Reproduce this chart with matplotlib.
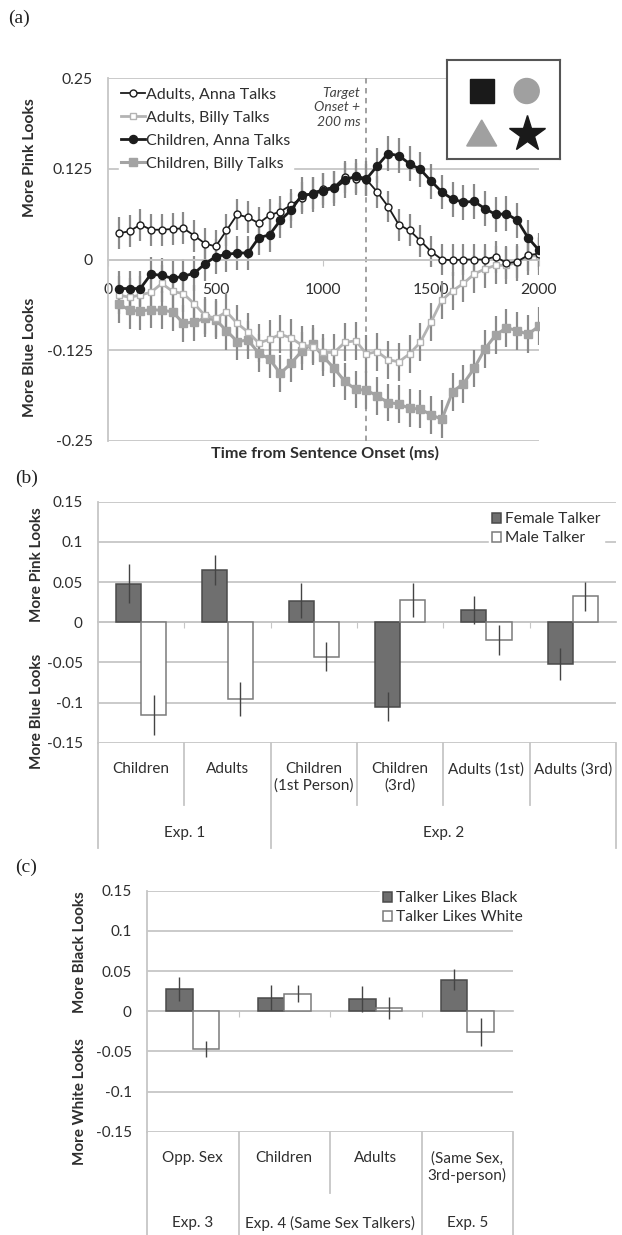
import matplotlib
matplotlib.use("Agg")
import matplotlib.pyplot as plt
import matplotlib.transforms as mtransforms
from matplotlib.patches import Rectangle, Circle, Polygon

# ---------------- Panel (a) data ----------------
time_ms = [50, 100, 150, 200, 250, 300, 350, 400, 450, 500,
           550, 600, 650, 700, 750, 800, 850, 900, 950, 1000,
           1050, 1100, 1150, 1200, 1250, 1300, 1350, 1400, 1450, 1500,
           1550, 1600, 1650, 1700, 1750, 1800, 1850, 1900, 1950, 2000]
adults_anna = [0.036, 0.039, 0.048, 0.041, 0.041, 0.042, 0.043, 0.033, 0.022, 0.018,
               0.040, 0.062, 0.058, 0.050, 0.061, 0.066, 0.075, 0.085, 0.092, 0.097,
               0.100, 0.114, 0.111, 0.110, 0.093, 0.073, 0.048, 0.040, 0.026, 0.011,
               0.000, -0.001, 0.000, 0.000, 0.000, 0.004, -0.005, -0.003, 0.006, 0.008]
adults_billy = [-0.049, -0.052, -0.049, -0.045, -0.033, -0.044, -0.047, -0.061, -0.077, -0.081,
                -0.072, -0.088, -0.100, -0.115, -0.110, -0.103, -0.108, -0.118, -0.120, -0.128,
                -0.128, -0.114, -0.112, -0.130, -0.127, -0.138, -0.141, -0.130, -0.114, -0.086,
                -0.056, -0.043, -0.033, -0.020, -0.013, -0.008, -0.008, -0.004, 0.005, 0.005]
children_anna = [-0.040, -0.040, -0.040, -0.020, -0.022, -0.026, -0.023, -0.019, -0.006, 0.004,
                 0.007, 0.009, 0.009, 0.030, 0.034, 0.054, 0.068, 0.089, 0.090, 0.095,
                 0.098, 0.109, 0.115, 0.111, 0.129, 0.146, 0.143, 0.132, 0.124, 0.108,
                 0.093, 0.083, 0.079, 0.080, 0.070, 0.062, 0.063, 0.054, 0.030, 0.013]
children_billy = [-0.061, -0.070, -0.071, -0.069, -0.070, -0.072, -0.088, -0.086, -0.081, -0.083,
                  -0.098, -0.113, -0.111, -0.129, -0.137, -0.157, -0.143, -0.126, -0.116, -0.134,
                  -0.150, -0.168, -0.179, -0.180, -0.188, -0.197, -0.199, -0.205, -0.206, -0.214,
                  -0.220, -0.182, -0.171, -0.150, -0.123, -0.104, -0.094, -0.098, -0.103, -0.092]
adults_anna_err = 0.022
adults_billy_err = 0.026
children_anna_err = 0.024
children_billy_err = 0.026
a_series_labels = ["Adults, Anna Talks", "Adults, Billy Talks",
                   "Children, Anna Talks", "Children, Billy Talks"]
a_yticks = [0.25, 0.125, 0, -0.125, -0.25]
a_yticklabels = ["0.25", "0.125", "0", "-0.125", "-0.25"]
a_xticks = [0, 500, 1000, 1500, 2000]
target_ms = 1200

# ---------------- Panel (b) data ----------------
b_categories = ["Children", "Adults", "Children\n(1st Person)", "Children\n(3rd)",
                "Adults (1st)", "Adults (3rd)"]
b_groups = ["Exp. 1", "Exp. 2"]
b_group_sizes = [2, 4]
b_female = [0.048, 0.065, 0.027, -0.105, 0.015, -0.052]
b_female_err = [0.024, 0.019, 0.022, 0.018, 0.017, 0.020]
b_male = [-0.116, -0.096, -0.043, 0.028, -0.022, 0.032]
b_male_err = [0.025, 0.021, 0.018, 0.021, 0.019, 0.018]
b_series = ["Female Talker", "Male Talker"]

# ---------------- Panel (c) data ----------------
c_categories = ["Opp. Sex", "Children", "Adults", "(Same Sex,\n3rd-person)"]
c_groups = ["Exp. 3", "Exp. 4 (Same Sex Talkers)", "Exp. 5"]
c_group_sizes = [1, 2, 1]
c_black = [0.028, 0.017, 0.015, 0.039]
c_black_err = [0.015, 0.015, 0.016, 0.013]
c_white = [-0.047, 0.022, 0.004, -0.026]
c_white_err = [0.010, 0.010, 0.014, 0.017]
c_series = ["Talker Likes Black", "Talker Likes White"]

bc_yticks = [0.15, 0.1, 0.05, 0, -0.05, -0.1, -0.15]
bc_yticklabels = ["0.15", "0.1", "0.05", "0", "-0.05", "-0.1", "-0.15"]

# ---------------- styling ----------------
W, H, DPI = 622, 1235, 100
FONT = "Lato"
TXT = "#2e2e2e"
GRID = "#c6c6c6"
BLACK = "#1c1c1c"
GRAY = "#a3a3a3"
LGRAY = "#b3b3b3"
ECOL = "#8a8a8a"
plt.rcParams["font.family"] = [FONT, "DejaVu Sans"]

fig = plt.figure(figsize=(W / DPI, H / DPI), dpi=DPI)
fig.patch.set_facecolor("white")


def fx(px):
    return px / W


def fy(py):
    return 1 - py / H


def add_ax(left, top, right, bottom):
    return fig.add_axes([fx(left), fy(bottom), (right - left) / W, (bottom - top) / H])


def style_common(ax):
    for s in ["top", "right"]:
        ax.spines[s].set_visible(False)
    ax.spines["left"].set_color(GRID)
    ax.spines["left"].set_linewidth(1.3)
    ax.yaxis.grid(True, color=GRID, linewidth=1.3)
    ax.set_axisbelow(True)
    ax.tick_params(axis="y", length=0, labelsize=11, labelcolor=TXT, pad=11)


def ylabel(x, y, s, size):
    fig.text(fx(x), fy(y), s, rotation=90, ha="center", va="center",
             fontsize=size, fontweight="bold", color=TXT)


# ================= Panel (a) =================
axa = add_ax(108, 78, 538.8, 441)
style_common(axa)
axa.set_xlim(0, 2000)
axa.set_ylim(-0.25, 0.25)
axa.set_yticks(a_yticks)
axa.set_yticklabels(a_yticklabels)
axa.tick_params(axis="y", labelsize=11.3)
axa.spines["bottom"].set_position(("data", 0))
axa.spines["bottom"].set_color(GRID)
axa.spines["bottom"].set_linewidth(1.3)
axa.set_xticks(a_xticks)
axa.set_xticklabels([str(v) for v in a_xticks])
axa.tick_params(axis="x", length=4, color=GRID, labelsize=11.3, labelcolor=TXT, pad=13)

axa.axvline(target_ms, color="#9a9a9a", linestyle=(0, (3, 2.5)), linewidth=1.3, zorder=1.5)
axa.text(target_ms - 28, 0.238, "Target\nOnset +\n200 ms", ha="right", va="top",
         style="italic", fontsize=10, color="#444444", linespacing=1.25, zorder=1.6)

series_a = [
    (adults_anna, adults_anna_err, dict(color=BLACK, lw=1.3, marker="o", ms=5.0,
                                        mfc="white", mec=BLACK, mew=1.0), 5),
    (adults_billy, adults_billy_err, dict(color=LGRAY, lw=2.0, marker="s", ms=4.8,
                                          mfc="white", mec=LGRAY, mew=1.0), 4),
    (children_anna, children_anna_err, dict(color=BLACK, lw=2.0, marker="o", ms=5.8,
                                            mfc=BLACK, mec=BLACK), 6),
    (children_billy, children_billy_err, dict(color=GRAY, lw=2.2, marker="s", ms=5.4,
                                              mfc=GRAY, mec=GRAY), 3),
]
handles = []
for (vals, err, kw, z), lab in zip(series_a, a_series_labels):
    axa.errorbar(time_ms, vals, yerr=err, fmt="none", ecolor=ECOL, elinewidth=1.6,
                 capsize=0, zorder=2)
for (vals, err, kw, z), lab in zip(series_a, a_series_labels):
    ln, = axa.plot(time_ms, vals, zorder=z, label=lab, **kw)
    handles.append(ln)

leg = axa.legend(handles=handles, loc="upper left",
                 bbox_to_anchor=(fx(119), fy(85)), bbox_transform=fig.transFigure,
                 frameon=True, fancybox=False, framealpha=1, edgecolor="white",
                 facecolor="white", fontsize=11.5, handlelength=1.45,
                 handletextpad=0.12, labelspacing=0.56, borderpad=0.15,
                 borderaxespad=0)
for t in leg.get_texts():
    t.set_color(TXT)

fig.text(fx(325), fy(453), "Time from Sentence Onset (ms)", ha="center", va="center",
         fontsize=11.7, fontweight="bold", color=TXT)
ylabel(30, 158, "More Pink Looks", 11.3)
ylabel(30, 357, "More Blue Looks", 11.3)

# inset with shapes
axi = add_ax(447, 60, 560, 159)
axi.set_xlim(0, 113)
axi.set_ylim(99, 0)
axi.set_xticks([])
axi.set_yticks([])
for s in axi.spines.values():
    s.set_color("#555555")
    s.set_linewidth(1.5)
axi.add_patch(Rectangle((34.7 - 12, 31 - 12), 24, 24, color="#1a1a1a"))
axi.add_patch(Circle((79.7, 31), 12.5, color="#a0a0a0"))
axi.add_patch(Polygon([[19.7, 86], [49.7, 86], [34.7, 60]], closed=True, color="#a0a0a0"))
axi.plot([79.7], [74], marker="*", ms=27, color="#1a1a1a")

# ================= Panel (b) / (c) helper =================
BAR_W = 0.29


def bar_panel(left, top, right, bottom, cats, groups, gsizes, v1, e1, v2, e2, names,
              row_y, inner_bot, group_bot, group_y, leg_xy):
    ax = add_ax(left, top, right, bottom)
    style_common(ax)
    n = len(cats)
    ax.set_xlim(-0.5, n - 0.5)
    ax.set_ylim(-0.15, 0.15)
    ax.set_yticks(bc_yticks)
    ax.set_yticklabels(bc_yticklabels)
    ax.spines["bottom"].set_position(("data", 0))
    ax.spines["bottom"].set_color(GRID)
    ax.spines["bottom"].set_linewidth(1.3)
    ax.set_xticks([i + 0.5 for i in range(n - 1)])
    ax.set_xticklabels([])
    ax.tick_params(axis="x", length=4, color=GRID)
    xs = list(range(n))
    b1 = ax.bar([x - BAR_W / 2 for x in xs], v1, width=BAR_W, color="#6f6f6f",
                edgecolor="#4a4a4a", linewidth=1.1, zorder=3, label=names[0])
    b2 = ax.bar([x + BAR_W / 2 for x in xs], v2, width=BAR_W, color="white",
                edgecolor="#7a7a7a", linewidth=1.1, zorder=3, label=names[1])
    ax.errorbar([x - BAR_W / 2 for x in xs], v1, yerr=e1, fmt="none", ecolor="#444444",
                elinewidth=1.0, capsize=0, zorder=4)
    ax.errorbar([x + BAR_W / 2 for x in xs], v2, yerr=e2, fmt="none", ecolor="#444444",
                elinewidth=1.0, capsize=0, zorder=4)

    tb = mtransforms.blended_transform_factory(ax.transData, fig.transFigure)
    for i, c in enumerate(cats):
        ax.text(i, fy(row_y), c, transform=tb, ha="center", va="top", fontsize=11,
                color=TXT, linespacing=1.2)
    bounds_group = [-0.5]
    acc = -0.5
    for g in gsizes:
        acc += g
        bounds_group.append(acc)
    for bnd in [i - 0.5 for i in range(n + 1)]:
        yb = group_bot if bnd in bounds_group else inner_bot
        ax.plot([bnd, bnd], [fy(bottom), fy(yb)], transform=tb, color=GRID,
                linewidth=1.3, clip_on=False)
    start = -0.5
    for g, sz in zip(groups, gsizes):
        ax.text(start + sz / 2, fy(group_y), g, transform=tb, ha="center", va="center",
                fontsize=11, color=TXT)
        start += sz
    lg = ax.legend(handles=[b1, b2], loc="upper left",
                   bbox_to_anchor=(fx(leg_xy[0]), fy(leg_xy[1])),
                   bbox_transform=fig.transFigure, frameon=True, fancybox=False, framealpha=1,
                   edgecolor="white", facecolor="white", fontsize=11.2, handlelength=0.6,
                   handleheight=0.6, handletextpad=0.25, labelspacing=0.33, borderpad=0.2,
                   borderaxespad=0)
    for t in lg.get_texts():
        t.set_color(TXT)
    return ax


axb = bar_panel(98, 501.7, 616, 742.7, b_categories, b_groups, b_group_sizes,
                b_female, b_female_err, b_male, b_male_err, b_series,
                762, 805, 848, 833, (489, 509))
ylabel(37, 565, "More Pink Looks", 11)
ylabel(37, 711, "More Blue Looks", 11)

axc = bar_panel(147, 890.7, 513, 1131.7, c_categories, c_groups, c_group_sizes,
                c_black, c_black_err, c_white, c_white_err, c_series,
                1151, 1193, 1240, 1223, (380, 888))
ylabel(80, 952, "More Black Looks", 11)
ylabel(80, 1102, "More White Looks", 11)

# panel letters
for lab, x, y in [("(a)", 8, 18), ("(b)", 15, 478), ("(c)", 15, 867)]:
    fig.text(fx(x), fy(y), lab, ha="left", va="center", fontsize=14,
             family=["Liberation Serif", "DejaVu Serif"], color="#222222")

fig.savefig("out.png", dpi=DPI, facecolor="white")
